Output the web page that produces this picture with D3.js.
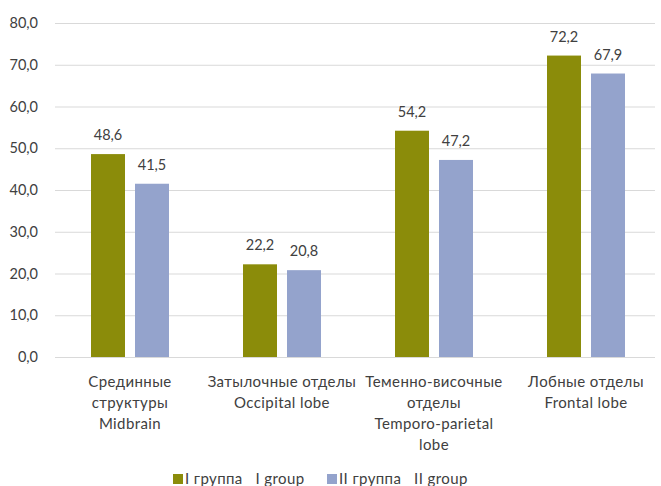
<!DOCTYPE html>
<html><head><meta charset="utf-8">
<script src="https://cdn.jsdelivr.net/npm/d3@7"></script>
<style>body{margin:0;background:#fff}svg{display:block}text{font-family:Lato,"Open Sans",sans-serif;fill:#404040}</style>
</head><body><svg id="c" width="661" height="486"></svg>
<script>
const categories = [["Срединные","структуры","Midbrain"],["Затылочные отделы","Occipital lobe"],["Теменно-височные","отделы","Temporo-parietal","lobe"],["Лобные отделы","Frontal lobe"]];
const series = ["I группа   I group","II группа   II group"];
const group1 = [48.6, 22.2, 54.2, 72.2];
const group2 = [41.5, 20.8, 47.2, 67.9];
const yTicks = [0,10,20,30,40,50,60,70,80];
const colors = ["#8B8C0A","#94A3CC"];

const svg = d3.select("#c");
const L=55,R=655,T=23,B=357;
const x = d3.scaleBand().domain(d3.range(4)).range([54,662]);
const y = d3.scaleLinear().domain([0,80]).range([B,T]);
const fmt = v => d3.format(".1f")(v).replace(".",",");

svg.append("g").selectAll("line").data(yTicks).join("line")
  .attr("x1",L).attr("x2",R).attr("y1",d=>y(d)+0.5).attr("y2",d=>y(d)+0.5)
  .attr("stroke","#d9d9d9").attr("stroke-width",1);
svg.append("g").selectAll("text").data(yTicks).join("text")
  .attr("x",38).attr("y",d=>y(d)+5).attr("text-anchor","end").attr("font-size",14.5).text(fmt);

const bw=34, gap=10;
const data=[group1,group2];
data.forEach((arr,s)=>{
  const xs = i => x(i)+x.bandwidth()/2 + (s===0 ? -gap/2-bw : gap/2);
  svg.append("g").selectAll("rect").data(arr).join("rect")
    .attr("x",(d,i)=>xs(i)).attr("width",bw).attr("y",d=>y(d)).attr("height",d=>B-y(d)).attr("fill",colors[s]);
  svg.append("g").selectAll("text").data(arr).join("text")
    .attr("x",(d,i)=>xs(i)+bw/2).attr("y",d=>y(d)-14).attr("text-anchor","middle").attr("font-size",14.5).text(fmt);
});

const cl = svg.append("g");
categories.forEach((lines,i)=>{
  lines.forEach((t,j)=>{
    cl.append("text").attr("x",x(i)+x.bandwidth()/2).attr("y",387+j*21).attr("text-anchor","middle")
      .attr("font-size",15).attr("letter-spacing",0.4).text(t);
  });
});

const lg = svg.append("g");
const lx=[173,327];
series.forEach((s,i)=>{
  lg.append("rect").attr("x",lx[i]).attr("y",474).attr("width",10).attr("height",10).attr("fill",colors[i]);
  lg.append("text").attr("x",lx[i]+12).attr("y",484).attr("font-size",15).attr("letter-spacing",0.4)
    .style("white-space","pre").text(s);
});
</script></body></html>
